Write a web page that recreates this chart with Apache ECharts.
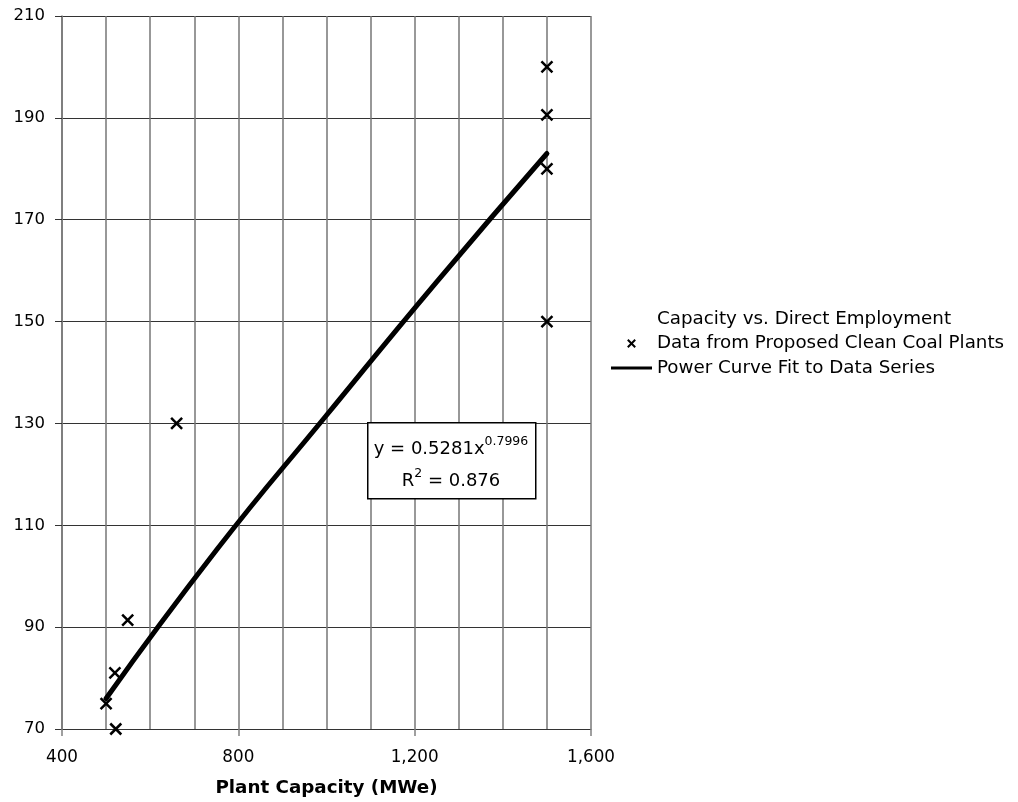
<!DOCTYPE html>
<html>
<head>
<meta charset="utf-8">
<script src="https://cdn.jsdelivr.net/npm/echarts@6/dist/echarts.min.js"></script>
<style>
html,body{margin:0;padding:0;background:#fff;}
#chart{width:1018px;height:802px;}
</style>
</head>
<body>
<div id="chart"></div>
<script>
// Data
const capacity = [500, 522, 520, 549, 660, 1500, 1500, 1500, 1500];
const employment = [75, 70, 81, 91.4, 130, 200, 190.6, 180, 150];
// Fitted power curve
const fitX = [500, 750, 1000, 1250, 1500];
const fitY = [76.0, 105.1, 131.6, 157.8, 183.0];
const xTicks = [400, 800, 1200, 1600];
const yTicks = [70, 90, 110, 130, 150, 170, 190, 210];
const legendTitle = 'Capacity vs. Direct Employment';
const scatterName = 'Data from Proposed Clean Coal Plants';
const lineName = 'Power Curve Fit to Data Series';
const eqLine1 = 'y = 0.5281x';
const eqExp = '0.7996';
const eqLine2 = '0.876';

const FONT = 'DejaVu Sans';
const chart = echarts.init(document.getElementById('chart'));
const crossPath = 'path://M0,0L10,10M10,0L0,10';
const legendCross = 'path://M-4,-4M13,13M0,0L9,9M9,0L0,9';
const legendLine = 'path://M0,0L41,0L41,3L0,3Z';

const option = {
  animation: false,
  backgroundColor: '#fff',
  textStyle: { fontFamily: FONT, color: '#000' },
  grid: { left: 62, right: 427, top: 16, bottom: 72, containLabel: false },
  xAxis: {
    type: 'value',
    min: xTicks[0], max: xTicks[xTicks.length - 1], interval: 400,
    name: 'Plant Capacity (MWe)',
    nameLocation: 'middle', nameGap: 50,
    nameTextStyle: { fontFamily: FONT, fontSize: 18.3, fontWeight: 'bold', color: '#000' },
    axisLine: { show: true, onZero: false, lineStyle: { color: '#333', width: 1 } },
    axisTick: { show: true, length: 7, lineStyle: { color: '#808080', width: 1.5 } },
    axisLabel: { fontFamily: FONT, fontSize: 16.8, color: '#000', margin: 20,
      formatter: v => v.toLocaleString('en-US') },
    splitLine: { show: true, lineStyle: { color: '#777', width: 1.5 } },
    minorTick: { show: false, splitNumber: 4 },
    minorSplitLine: { show: true, lineStyle: { color: '#777', width: 1.5 } }
  },
  yAxis: {
    type: 'value',
    min: yTicks[0], max: yTicks[yTicks.length - 1], interval: 20,
    axisLine: { show: true, onZero: false, lineStyle: { color: '#777', width: 1.5 } },
    axisTick: { show: true, length: 7, lineStyle: { color: '#333', width: 1 } },
    axisLabel: { fontFamily: FONT, fontSize: 16.5, color: '#000', margin: 17 },
    splitLine: { show: true, lineStyle: { color: '#333', width: 1 } }
  },
  legend: {
    orient: 'vertical',
    left: 606, top: 305,
    itemWidth: 41, itemHeight: 14, itemGap: 6.5,
    textStyle: { fontFamily: FONT, fontSize: 18.3, color: '#000', lineHeight: 16 },
    selectedMode: false,
    data: [
      { name: legendTitle, icon: 'rect', itemStyle: { color: 'rgba(0,0,0,0)', borderWidth: 0, opacity: 0 } },
      { name: scatterName, icon: legendCross, itemStyle: { color: 'rgba(0,0,0,0)', borderColor: '#000', borderWidth: 2 } },
      { name: lineName, icon: legendLine, itemStyle: { color: '#000', borderWidth: 0 } }
    ]
  },
  series: [
    { name: legendTitle, type: 'scatter', data: [], itemStyle: { color: 'rgba(0,0,0,0)' } },
    {
      name: scatterName, type: 'scatter',
      data: capacity.map((x, i) => [x, employment[i]]),
      symbol: crossPath, symbolSize: 11,
      itemStyle: { color: 'rgba(0,0,0,0)', borderColor: '#000', borderWidth: 2.5, opacity: 1 },
      z: 5
    },
    {
      name: lineName, type: 'line',
      data: fitX.map((x, i) => [x, fitY[i]]),
      smooth: true, symbol: 'none',
      lineStyle: { color: '#000', width: 5, cap: 'round' },
      itemStyle: { color: '#000' },
      z: 4
    }
  ],
  graphic: [
    {
      type: 'rect', left: 367, top: 422, z: 10,
      shape: { width: 168, height: 76 },
      style: { fill: '#fff', stroke: '#000', lineWidth: 1.5 }
    },
    {
      type: 'text', x: 451, y: 449, z: 11,
      style: {
        text: '{a|' + eqLine1 + '}{s|' + eqExp + '}',
        align: 'center', verticalAlign: 'middle',
        rich: {
          a: { fontFamily: FONT, fontSize: 18, fill: '#000', lineHeight: 24 },
          s: { fontFamily: FONT, fontSize: 12.5, fill: '#000', lineHeight: 24, padding: [0, 0, 14, 0] }
        }
      }
    },
    {
      type: 'text', x: 451, y: 481, z: 11,
      style: {
        text: '{a|R}{s|2}{a| = ' + eqLine2 + '}',
        align: 'center', verticalAlign: 'middle',
        rich: {
          a: { fontFamily: FONT, fontSize: 18, fill: '#000', lineHeight: 24 },
          s: { fontFamily: FONT, fontSize: 12.5, fill: '#000', lineHeight: 24, padding: [0, 0, 14, 0] }
        }
      }
    }
  ]
};
chart.setOption(option);
</script>
</body>
</html>
